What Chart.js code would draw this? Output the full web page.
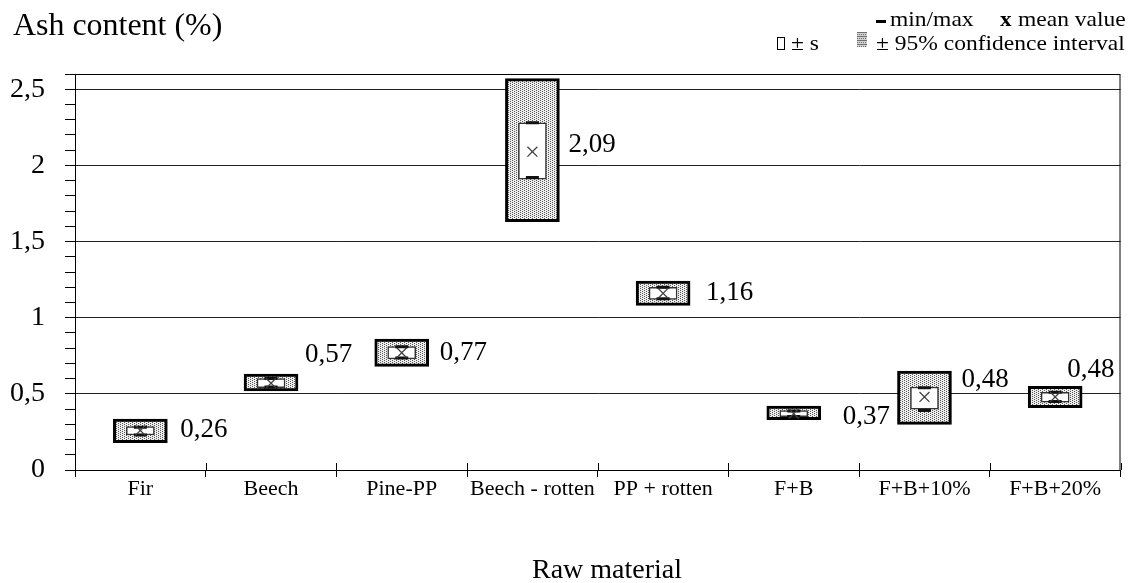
<!DOCTYPE html>
<html>
<head>
<meta charset="utf-8">
<script src="https://cdn.jsdelivr.net/npm/chart.js@4.4.0/dist/chart.umd.min.js"></script>
<style>
html, body { margin: 0; padding: 0; background: #fff; }
canvas { display: block; }
</style>
</head>
<body>
<canvas id="chart" width="1130" height="583"></canvas>
<script>
// Ash content per raw material

var categories = ['Fir', 'Beech', 'Pine-PP', 'Beech - rotten', 'PP + rotten', 'F+B', 'F+B+10%', 'F+B+20%'];
var meanValues = [0.26, 0.57, 0.77, 2.09, 1.16, 0.37, 0.48, 0.48];
var ciLow  = [0.18, 0.52, 0.68, 1.63, 1.08, 0.33, 0.30, 0.41];
var ciHigh = [0.335, 0.63, 0.86, 2.57, 1.24, 0.42, 0.65, 0.55];
var sdLow  = [0.23, 0.54, 0.73, 1.91, 1.12, 0.35, 0.40, 0.445];
var sdHigh = [0.285, 0.60, 0.81, 2.28, 1.20, 0.39, 0.545, 0.51];
var minValues = [0.23, 0.545, 0.735, 1.92, 1.125, 0.352, 0.39, 0.45];
var maxValues = [0.28, 0.60, 0.81, 2.28, 1.20, 0.388, 0.54, 0.51];
var yMax = 2.6;

// label placement relative to the box (pixels)
var labelDx = [40, 34, 38, 36, 43, 49, 37, 12];
var labelDy = [0, -28, 0, -7, 0, 3, -17, -27];

var SERIF = '"Liberation Serif", "Times New Roman", serif';

var canvas = document.getElementById('chart');
var ctx = canvas.getContext('2d');

function makePattern(light, dark, dots, size) {
    var p = document.createElement('canvas');
    p.width = size; p.height = size;
    var g = p.getContext('2d');
    g.fillStyle = light;
    g.fillRect(0, 0, size, size);
    g.fillStyle = dark;
    dots.forEach(function(d) { g.fillRect(d[0], d[1], 1, 1); });
    return ctx.createPattern(p, 'repeat');
}

var dotFill = makePattern('#eeeeee', '#555555', [[0, 0], [2, 1], [0, 2], [2, 3]], 4);
var stripeFill = makePattern('#d0d0d0', '#707070', [[0, 0], [1, 0], [2, 0], [3, 0], [1, 2], [3, 2]], 4);

function fmt(v) {
    return v.toFixed(2).replace('.', ',');
}

function drawText(c, text, x, y, font, align, sx) {
    c.save();
    c.font = font;
    c.fillStyle = '#000';
    c.textBaseline = 'alphabetic';
    c.textAlign = align || 'left';
    c.translate(x, y);
    c.scale(sx || 1, 1);
    c.fillText(text, 0, 0);
    c.restore();
}

var framePlugin = {
    id: 'frame',
    beforeDatasetsDraw: function(chart) {
        var a = chart.chartArea;
        var c = chart.ctx;
        var xs = chart.scales.x;
        c.save();
        c.strokeStyle = '#000';
        c.lineWidth = 1;
        c.beginPath();
        c.moveTo(a.left, a.top + 0.5);
        c.lineTo(a.right - 0.5, a.top + 0.5);
        c.lineTo(a.right - 0.5, a.bottom);
        c.stroke();
        // x ticks cross the axis a little
        var half = (xs.getPixelForValue(1) - xs.getPixelForValue(0)) / 2;
        c.beginPath();
        for (var i = 0; i <= categories.length; i++) {
            var x = Math.round(xs.getPixelForValue(i) - half) + 0.5;
            c.moveTo(x, a.bottom - 7);
            c.lineTo(x, a.bottom);
        }
        c.stroke();
        c.restore();
    }
};

var textPlugin = {
    id: 'texts',
    afterDraw: function(chart) {
        var c = chart.ctx;
        var xs = chart.scales.x;
        var ys = chart.scales.y;

        // value labels
        c.save();
        c.font = '27px ' + SERIF;
        c.fillStyle = '#000';
        c.textAlign = 'left';
        c.textBaseline = 'middle';
        meanValues.forEach(function(v, i) {
            c.fillText(fmt(v), xs.getPixelForValue(i) + labelDx[i], ys.getPixelForValue(v) + labelDy[i]);
        });
        c.restore();

        // axis titles
        drawText(c, 'Ash content (%)', 13, 35, '31px ' + SERIF, 'left', 1.03);
        drawText(c, 'Raw material', 607, 578, '28px ' + SERIF, 'center', 1);

        // legend
        var lf = '21px ' + SERIF;
        var lb = 'bold 21px ' + SERIF;
        c.save();
        c.fillStyle = '#000';
        c.fillRect(876, 20, 10, 3);
        c.restore();
        drawText(c, 'min/max', 890, 26, lf, 'left', 1.12);
        drawText(c, 'x', 1000, 26, lb, 'left', 1.1);
        drawText(c, 'mean value', 1018, 26, lf, 'left', 1.12);

        c.save();
        c.strokeStyle = '#000';
        c.lineWidth = 1;
        c.strokeRect(777.5, 37.5, 7, 12);
        c.fillStyle = stripeFill;
        c.fillRect(857, 32, 10, 15);
        c.restore();
        drawText(c, '\u00b1 s', 791, 50, lf, 'left', 1.12);
        drawText(c, '\u00b1 95% confidence interval', 876, 50, lf, 'left', 1.12);
    }
};

new Chart(ctx, {
    type: 'bar',
    data: {
        labels: categories,
        datasets: [
            {
                type: 'line',
                label: 'mean value',
                data: meanValues,
                showLine: false,
                pointStyle: 'crossRot',
                pointRadius: 7,
                pointHoverRadius: 7,
                pointBorderColor: '#404040',
                pointBorderWidth: 1.3,
                borderColor: '#404040',
                order: 0,
            },
            {
                type: 'line',
                label: 'max',
                data: maxValues,
                showLine: false,
                pointStyle: 'line',
                pointRadius: 6.5,
                pointHoverRadius: 6.5,
                pointBorderColor: '#111',
                pointBorderWidth: 3,
                borderColor: '#111',
                order: 1,
            },
            {
                type: 'line',
                label: 'min',
                data: minValues,
                showLine: false,
                pointStyle: 'line',
                pointRadius: 6.5,
                pointHoverRadius: 6.5,
                pointBorderColor: '#111',
                pointBorderWidth: 3,
                borderColor: '#111',
                order: 1,
            },
            {
                label: '\u00b1 s',
                data: categories.map(function(c, i) { return [sdLow[i], sdHigh[i]]; }),
                backgroundColor: '#fff',
                borderColor: '#333',
                borderWidth: 1.5,
                borderSkipped: false,
                barThickness: 28,
                grouped: false,
                order: 2,
            },
            {
                label: '\u00b1 95% confidence interval',
                data: categories.map(function(c, i) { return [ciLow[i], ciHigh[i]]; }),
                backgroundColor: dotFill,
                borderColor: '#000',
                borderWidth: 3,
                borderSkipped: false,
                barThickness: 54,
                grouped: false,
                order: 3,
            },
        ],
    },
    options: {
        responsive: false,
        animation: false,
        events: [],
        layout: {
            padding: { top: 74, right: 2, left: 0, bottom: 0 },
        },
        plugins: {
            legend: { display: false },
            tooltip: { enabled: false },
        },
        scales: {
            x: {
                offset: true,
                grid: {
                    drawOnChartArea: false,
                    drawTicks: true,
                    tickLength: 7,
                    color: '#000',
                },
                border: { color: '#000' },
                ticks: {
                    font: { family: SERIF, size: 22 },
                    color: '#000',
                    padding: -1,
                    maxRotation: 0,
                    autoSkip: false,
                },
                afterFit: function(s) { s.height = 113; },
            },
            y: {
                min: 0,
                max: yMax,
                grid: {
                    color: function(c) {
                        var t = Math.round(c.tick.value * 10);
                        return (t % 5 === 0 || t >= 26) ? '#222' : 'rgba(0,0,0,0)';
                    },
                    tickColor: '#000',
                    tickLength: 10,
                },
                border: { color: '#000' },
                ticks: {
                    stepSize: 0.1,
                    autoSkip: false,
                    padding: 20,
                    font: { family: SERIF, size: 28 },
                    color: '#000',
                    callback: function(v) {
                        var t = Math.round(v * 10);
                        if (t % 5 !== 0) return '';
                        return (t / 10).toString().replace('.', ',');
                    },
                },
                afterFit: function(s) { s.width = 75; },
            },
        },
    },
    plugins: [framePlugin, textPlugin],
});
</script>
</body>
</html>
